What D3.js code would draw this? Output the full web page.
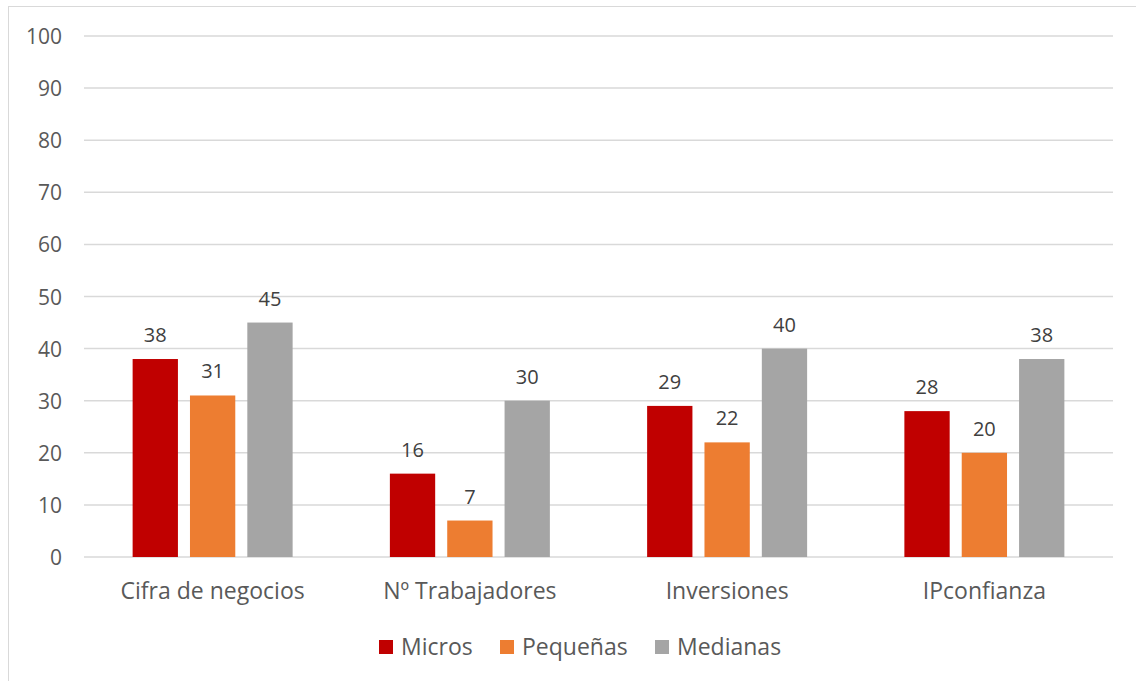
<!DOCTYPE html>
<html>
<head>
<meta charset="utf-8">
<script src="https://cdn.jsdelivr.net/npm/d3@7"></script>
<style>
  html, body { margin: 0; padding: 0; background: #fff; }
  svg { display: block; font-family: "Open Sans", sans-serif; }
</style>
</head>
<body>
<svg id="chart" width="1136" height="681"></svg>
<script>
// Survey results by company size
const categories = ["Cifra de negocios", "Nº Trabajadores", "Inversiones", "IPconfianza"];
const seriesNames = ["Micros", "Pequeñas", "Medianas"];
const micros = [38, 16, 29, 28];
const pequenas = [31, 7, 22, 20];
const medianas = [45, 30, 40, 38];
const yTicks = [0, 10, 20, 30, 40, 50, 60, 70, 80, 90, 100];
const colors = ["#c00000", "#ed7d31", "#a5a5a5"];

const seriesValues = [micros, pequenas, medianas];
const FONT = "'Open Sans', sans-serif";

const svg = d3.select("#chart");
const plot = { left: 84, right: 1113, top: 36, bottom: 557 };

// Outer chart frame (extends past the right and bottom edges)
svg.append("rect")
  .attr("x", 8.5).attr("y", 6.5)
  .attr("width", 1200).attr("height", 800)
  .attr("fill", "none").attr("stroke", "#d9d9d9").attr("stroke-width", 1);

const y = d3.scaleLinear().domain([0, 100]).range([plot.bottom, plot.top]);
const x0 = d3.scaleBand().domain(categories).range([plot.left, plot.right]);
const groupWidth = 160;
const x1 = d3.scaleBand().domain(seriesNames)
  .range([x0.bandwidth() / 2 - groupWidth / 2, x0.bandwidth() / 2 + groupWidth / 2])
  .paddingInner(0.21);

// Gridlines
svg.append("g").selectAll("line").data(yTicks).join("line")
  .attr("x1", plot.left).attr("x2", plot.right)
  .attr("y1", d => y(d)).attr("y2", d => y(d))
  .attr("stroke", "#d9d9d9").attr("stroke-width", 1.5);

// Y axis labels
const yAxis = d3.axisLeft(y).tickValues(yTicks).tickSize(0).tickPadding(0);
const yg = svg.append("g").attr("transform", `translate(62,0)`).call(yAxis);
yg.select(".domain").remove();
yg.selectAll("text").attr("fill", "#595959").attr("dy", "0.36em")
  .style("font-size", "21px").style("font-family", FONT);

// Category labels
const xAxis = d3.axisBottom(x0).tickSize(0).tickPadding(0);
const xg = svg.append("g").attr("transform", `translate(0,${plot.bottom})`).call(xAxis);
xg.select(".domain").remove();
xg.selectAll("text").attr("fill", "#595959").attr("y", 42).attr("dy", null)
  .style("font-size", "23px").style("font-family", FONT);

// Bars and value labels
const groups = svg.append("g").selectAll("g").data(categories).join("g")
  .attr("transform", d => `translate(${x0(d)},0)`);

groups.each(function(cat, ci) {
  const g = d3.select(this);
  const rows = seriesNames.map((s, si) => ({ s, si, v: seriesValues[si][ci] }));
  g.selectAll("rect").data(rows).join("rect")
    .attr("x", d => x1(d.s))
    .attr("y", d => y(d.v))
    .attr("width", x1.bandwidth())
    .attr("height", d => y(0) - y(d.v))
    .attr("fill", d => colors[d.si]);
  g.selectAll("text").data(rows).join("text")
    .attr("x", d => x1(d.s) + x1.bandwidth() / 2)
    .attr("y", d => y(d.v) - 17)
    .attr("text-anchor", "middle")
    .attr("fill", "#404040")
    .style("font-size", "20px")
    .text(d => d.v);
});

// Legend
const legendItems = [
  { name: "Micros", x: 379 },
  { name: "Pequeñas", x: 500 },
  { name: "Medianas", x: 655 }
];
const lg = svg.append("g");
legendItems.forEach((it, i) => {
  lg.append("rect").attr("x", it.x).attr("y", 640).attr("width", 14).attr("height", 14).attr("fill", colors[i]);
  lg.append("text").attr("x", it.x + 22).attr("y", 655)
    .attr("fill", "#595959").style("font-size", "23px").text(it.name);
});
</script>
</body>
</html>
